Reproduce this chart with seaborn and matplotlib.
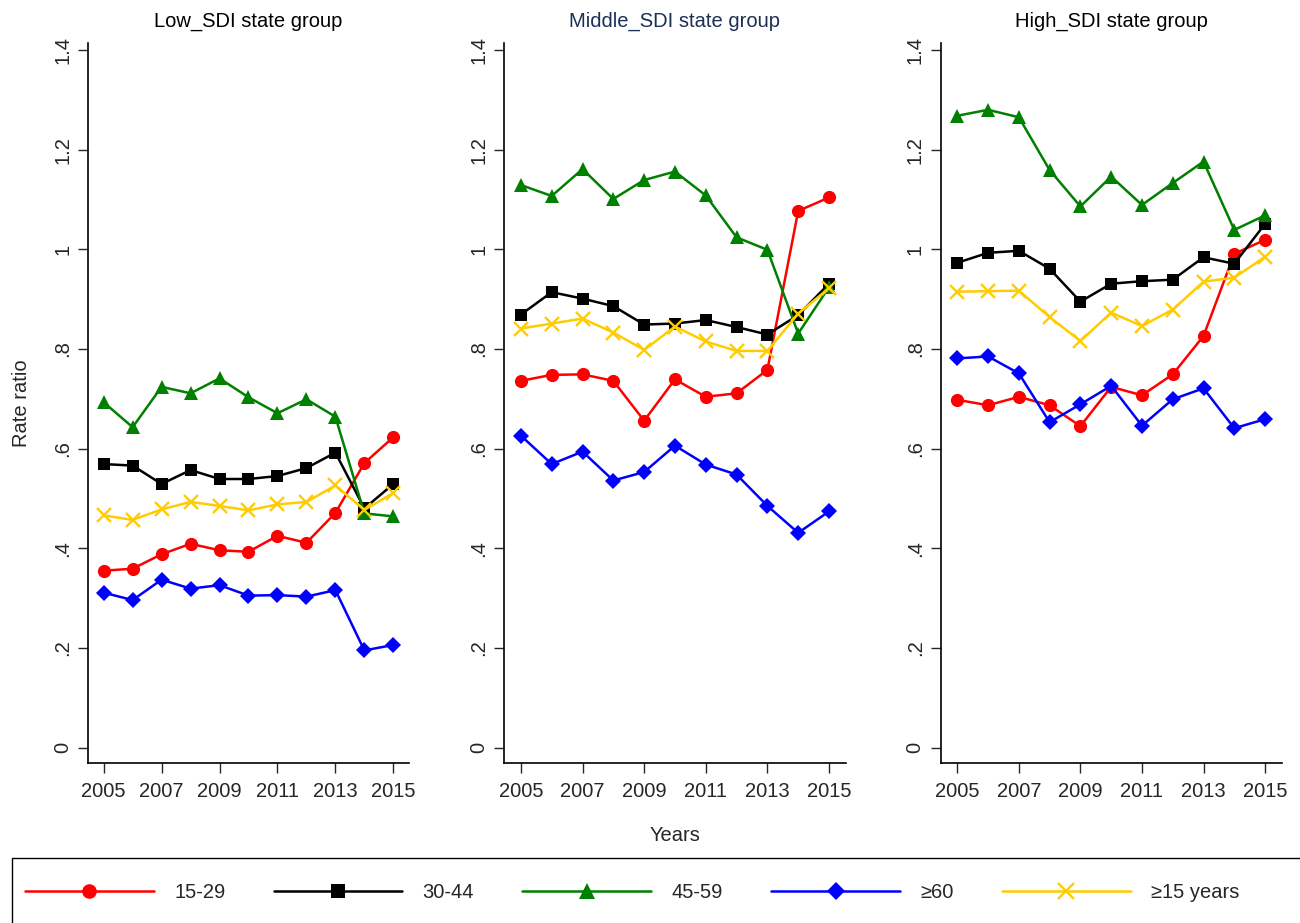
import numpy as np
import pandas as pd
import matplotlib
matplotlib.use('Agg')
from matplotlib import pyplot as plt
from matplotlib.lines import Line2D
from matplotlib.patches import Rectangle
import seaborn as sns

# 数据
years = list(range(2005, 2016))
groups = ['15-29', '30-44', '45-59', '≥60', '≥15 years']
panel_titles = ['Low_SDI state group', 'Middle_SDI state group', 'High_SDI state group']

low_15_29 = [0.355, 0.359, 0.388, 0.409, 0.396, 0.393, 0.425, 0.411, 0.471, 0.571, 0.623]
low_30_44 = [0.569, 0.566, 0.529, 0.557, 0.539, 0.539, 0.545, 0.561, 0.592, 0.480, 0.529]
low_45_59 = [0.693, 0.643, 0.724, 0.711, 0.741, 0.703, 0.671, 0.699, 0.664, 0.470, 0.464]
low_60 = [0.311, 0.296, 0.337, 0.319, 0.326, 0.305, 0.306, 0.303, 0.316, 0.195, 0.206]
low_15plus = [0.466, 0.457, 0.478, 0.493, 0.485, 0.476, 0.488, 0.493, 0.526, 0.477, 0.511]

mid_15_29 = [0.736, 0.748, 0.749, 0.736, 0.656, 0.739, 0.704, 0.711, 0.758, 1.077, 1.104]
mid_30_44 = [0.869, 0.914, 0.901, 0.886, 0.849, 0.851, 0.858, 0.844, 0.829, 0.868, 0.931]
mid_45_59 = [1.129, 1.107, 1.161, 1.101, 1.139, 1.156, 1.108, 1.024, 0.999, 0.831, 0.924]
mid_60 = [0.626, 0.569, 0.594, 0.536, 0.553, 0.606, 0.568, 0.548, 0.485, 0.431, 0.474]
mid_15plus = [0.841, 0.851, 0.861, 0.833, 0.798, 0.845, 0.815, 0.796, 0.796, 0.871, 0.922]

high_15_29 = [0.698, 0.687, 0.704, 0.687, 0.645, 0.724, 0.707, 0.749, 0.826, 0.991, 1.019]
high_30_44 = [0.973, 0.993, 0.997, 0.961, 0.895, 0.931, 0.936, 0.939, 0.984, 0.971, 1.051]
high_45_59 = [1.268, 1.280, 1.265, 1.159, 1.086, 1.146, 1.089, 1.133, 1.176, 1.039, 1.068]
high_60 = [0.781, 0.785, 0.751, 0.653, 0.689, 0.726, 0.646, 0.699, 0.721, 0.641, 0.659]
high_15plus = [0.915, 0.916, 0.917, 0.864, 0.816, 0.873, 0.846, 0.879, 0.935, 0.943, 0.985]

panel_data = [
    [low_15_29, low_30_44, low_45_59, low_60, low_15plus],
    [mid_15_29, mid_30_44, mid_45_59, mid_60, mid_15plus],
    [high_15_29, high_30_44, high_45_59, high_60, high_15plus],
]

# 样式
colors = ['#FF0000', '#000000', '#008000', '#0000FF', '#FFCC00']
markers = ['o', 's', '^', 'D', 'x']
msizes = [9.5, 9, 10.5, 8, 10]
mews = [0, 0, 0, 0, 1.7]
title_colors = ['#000000', '#1C2F55', '#000000']

rows = []
for p, title in enumerate(panel_titles):
    for g, grp in enumerate(groups):
        for yr, v in zip(years, panel_data[p][g]):
            rows.append({'panel': title, 'group': grp, 'year': yr, 'rr': v})
df = pd.DataFrame(rows)

sns.set_style('ticks')
plt.rcParams['font.family'] = ['Liberation Sans', 'DejaVu Sans']
fs = 14.5

fig = plt.figure(figsize=(13, 9.23), dpi=100)
axes_pos = [
    [0.0677, 0.1733, 0.2469, 0.7801],
    [0.3879, 0.1733, 0.2626, 0.7801],
    [0.7236, 0.1733, 0.2623, 0.7801],
]

for p, title in enumerate(panel_titles):
    ax = fig.add_axes(axes_pos[p])
    sub = df[df['panel'] == title]
    for g, grp in enumerate(groups):
        sns.lineplot(data=sub[sub['group'] == grp], x='year', y='rr', ax=ax,
                     color=colors[g], marker=markers[g], markersize=msizes[g],
                     markeredgecolor=colors[g], markeredgewidth=mews[g],
                     linewidth=1.8, legend=False)
    ax.set_xlim(2004.46, 2015.54)
    ax.set_ylim(-0.031, 1.414)
    ax.set_xticks([2005, 2007, 2009, 2011, 2013, 2015])
    ax.set_xticklabels(['2005', '2007', '2009', '2011', '2013', '2015'], fontsize=fs)
    ax.set_yticks([0, 0.2, 0.4, 0.6, 0.8, 1.0, 1.2, 1.4])
    ax.set_yticklabels(['0', '.2', '.4', '.6', '.8', '1', '1.2', '1.4'],
                       fontsize=fs, rotation=90, va='center')
    ax.tick_params(axis='x', length=7.5, width=1, pad=6)
    ax.tick_params(axis='y', length=7.5, width=1, pad=4)
    for s in ['left', 'bottom']:
        ax.spines[s].set_linewidth(1.2)
        ax.spines[s].set_color('#000000')
    sns.despine(ax=ax)
    ax.set_title(title, fontsize=fs, color=title_colors[p], pad=12)
    if p == 0:
        ax.set_ylabel('Rate ratio', fontsize=fs, labelpad=16)
    else:
        ax.set_ylabel('')
    if p == 1:
        ax.set_xlabel('Years', fontsize=fs, labelpad=18)
    else:
        ax.set_xlabel('')

# 图例外框
frame_top = 1 - 858 / 923
fig.patches.append(Rectangle((12 / 1300, -0.02), 1.0, frame_top + 0.02,
                             transform=fig.transFigure, fill=False,
                             edgecolor='#000000', linewidth=1.0))

# 图例
handles = [Line2D([0], [0], color=colors[g], marker=markers[g], markersize=msizes[g] + 1,
                  markeredgecolor=colors[g], markeredgewidth=mews[g], linewidth=1.8)
           for g in range(len(groups))]
leg = fig.legend(handles, groups, loc='center left', ncol=5, mode='expand',
                 bbox_to_anchor=(25 / 1300, 1 - 893 / 923, 0.934, 0), fontsize=fs,
                 handlelength=6.4, handletextpad=1.0, borderpad=0.0,
                 borderaxespad=0.0, frameon=False, numpoints=1)

plt.savefig('out.png', dpi=100)
